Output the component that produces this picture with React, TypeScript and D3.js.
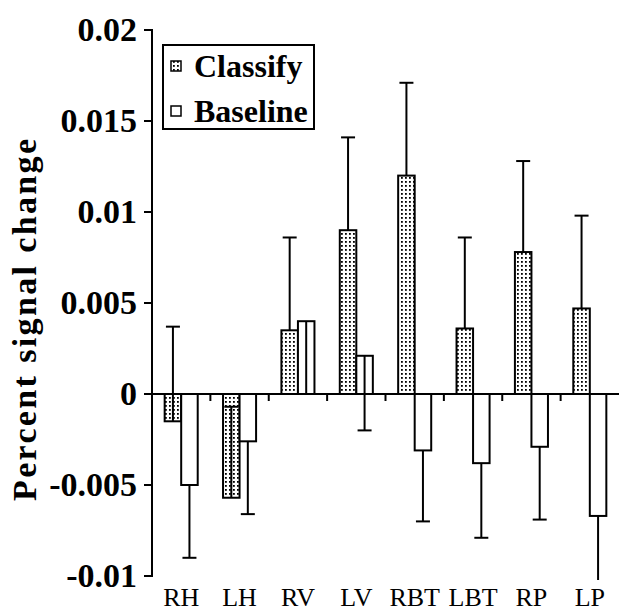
import React from 'react'
import * as d3 from "d3";

const regions = ["RH", "LH", "RV", "LV", "RBT", "LBT", "RP", "LP"]
const classify = [-0.0015, -0.0057, 0.0035, 0.009, 0.012, 0.0036, 0.0078, 0.0047]
const classifyErr = [0.0052, 0.005, 0.0051, 0.0051, 0.0051, 0.005, 0.005, 0.0051]
const baseline = [-0.005, -0.0026, 0.004, 0.0021, -0.0031, -0.0038, -0.0029, -0.0067]
const baselineErr = [0.004, 0.004, 0.004, 0.0041, 0.0039, 0.0041, 0.004, 0.004]
const yTicks = [-0.01, -0.005, 0, 0.005, 0.01, 0.015, 0.02]
const yTickLabels = ["-0.01", "-0.005", "0", "0.005", "0.01", "0.015", "0.02"]
const seriesNames = ["Classify", "Baseline"]

const serif = "'Liberation Serif', 'Times New Roman', serif"

function drawChart(svgRef: React.RefObject<SVGSVGElement>) {
  const width = 619
  const height = 613

  const svg = d3.select(svgRef.current)
    .attr("width", width)
    .attr("height", height)
    .attr("viewBox", [0, 0, width, height])

  svg.selectAll("*").remove()

  svg.append("rect").attr("width", width).attr("height", height).attr("fill", "#fff")

  const pattern = svg.append("defs").append("pattern")
    .attr("id", "dots")
    .attr("width", 4)
    .attr("height", 4)
    .attr("patternUnits", "userSpaceOnUse")
  pattern.append("rect").attr("width", 4).attr("height", 4).attr("fill", "#fff")
  pattern.append("rect").attr("x", 1).attr("y", 1).attr("width", 1.8).attr("height", 1.8).attr("fill", "#000")

  const x = d3.scaleBand().domain(regions).range([152, 619]).padding(0)
  const y = d3.scaleLinear().domain([-0.01, 0.02]).range([576, 30])

  const barW = x.bandwidth() * 0.283

  const rows = regions.map((r, i) => [
    { key: r, s: 0, v: classify[i], e: classifyErr[i], dir: 1 },
    { key: r, s: 1, v: baseline[i], e: baselineErr[i], dir: -1 }
  ]).flat()

  const barX = (d) => x(d.key)! + x.bandwidth() / 2 + (d.s === 0 ? -barW : 0)

  // bars
  svg.append("g")
    .selectAll("rect")
    .data(rows)
    .join("rect")
      .attr("x", barX)
      .attr("width", barW)
      .attr("y", d => y(Math.max(0, d.v)))
      .attr("height", d => Math.abs(y(d.v) - y(0)))
      .attr("fill", d => d.s === 0 ? "url(#dots)" : "#fff")
      .attr("stroke", "#000")
      .attr("stroke-width", 2)

  // error bars (classify up, baseline down)
  const err = svg.append("g")
    .attr("stroke", "#000")
    .attr("stroke-width", 2)
    .selectAll("g")
    .data(rows)
    .join("g")
  const errEnd = d => Math.max(y.domain()[0], d.v + d.dir * d.e)
  err.append("line")
    .attr("x1", d => barX(d) + barW / 2)
    .attr("x2", d => barX(d) + barW / 2)
    .attr("y1", d => y(d.v))
    .attr("y2", d => y(errEnd(d)) + (d.v + d.dir * d.e < y.domain()[0] ? 4 : 0))
  err.filter(d => d.v + d.dir * d.e >= y.domain()[0])
    .append("line")
    .attr("x1", d => barX(d) + barW / 2 - 7)
    .attr("x2", d => barX(d) + barW / 2 + 7)
    .attr("y1", d => y(errEnd(d)))
    .attr("y2", d => y(errEnd(d)))

  // y axis
  const yAxis = svg.append("g").attr("stroke", "#000").attr("stroke-width", 2)
  yAxis.append("line")
    .attr("x1", 152).attr("x2", 152)
    .attr("y1", y(0.02) - 1).attr("y2", y(-0.01) + 1)
  yAxis.selectAll("line.tick")
    .data(yTicks)
    .join("line")
      .attr("class", "tick")
      .attr("x1", 144).attr("x2", 152)
      .attr("y1", d => y(d)).attr("y2", d => y(d))

  svg.append("g")
    .attr("font-family", serif)
    .attr("font-weight", "bold")
    .attr("font-size", 34)
    .attr("text-anchor", "end")
    .selectAll("text")
    .data(yTicks)
    .join("text")
      .attr("x", 137)
      .attr("y", d => y(d))
      .attr("dy", "0.33em")
      .text((d, i) => yTickLabels[i])

  // x axis
  const xAxis = svg.append("g").attr("stroke", "#000").attr("stroke-width", 2)
  xAxis.append("line")
    .attr("x1", 152).attr("x2", 619)
    .attr("y1", y(0)).attr("y2", y(0))
  xAxis.selectAll("line.tick")
    .data(regions.slice(1))
    .join("line")
      .attr("class", "tick")
      .attr("x1", d => x(d)!).attr("x2", d => x(d)!)
      .attr("y1", y(0)).attr("y2", y(0) + 7)

  svg.append("g")
    .attr("font-family", serif)
    .attr("font-size", 26)
    .attr("text-anchor", "middle")
    .selectAll("text")
    .data(regions)
    .join("text")
      .attr("x", d => x(d)! + x.bandwidth() / 2)
      .attr("y", 606)
      .text(d => d)

  // y title
  svg.append("text")
    .attr("transform", "translate(36,320) rotate(-90)")
    .attr("font-family", serif)
    .attr("font-weight", "bold")
    .attr("font-size", 34)
    .attr("text-anchor", "middle")
    .attr("textLength", 362)
    .attr("lengthAdjust", "spacing")
    .text("Percent signal change")

  // legend
  const legend = svg.append("g")
  legend.append("rect")
    .attr("x", 163).attr("y", 45)
    .attr("width", 151).attr("height", 84)
    .attr("fill", "#fff")
    .attr("stroke", "#000")
    .attr("stroke-width", 2)
  const item = legend.selectAll("g")
    .data(seriesNames)
    .join("g")
      .attr("transform", (d, i) => `translate(0,${i * 45})`)
  item.append("rect")
    .attr("x", 171).attr("y", 61)
    .attr("width", 10).attr("height", 10)
    .attr("fill", (d, i) => i === 0 ? "url(#dots)" : "#fff")
    .attr("stroke", "#000")
    .attr("stroke-width", 1.5)
  item.append("text")
    .attr("x", 194)
    .attr("y", 77)
    .attr("font-family", serif)
    .attr("font-weight", "bold")
    .attr("font-size", 32)
    .text(d => d)

  return svg.node()
}

const App: React.FunctionComponent = () => {
  const svg = React.useRef<SVGSVGElement>(null)

  React.useEffect(() => {
    drawChart(svg)
  }, [svg])

  return (
    <div id="chart">
      <svg ref={svg} style={{ position: "absolute", left: 0, top: 0 }} />
    </div>
  )
}

export default App
